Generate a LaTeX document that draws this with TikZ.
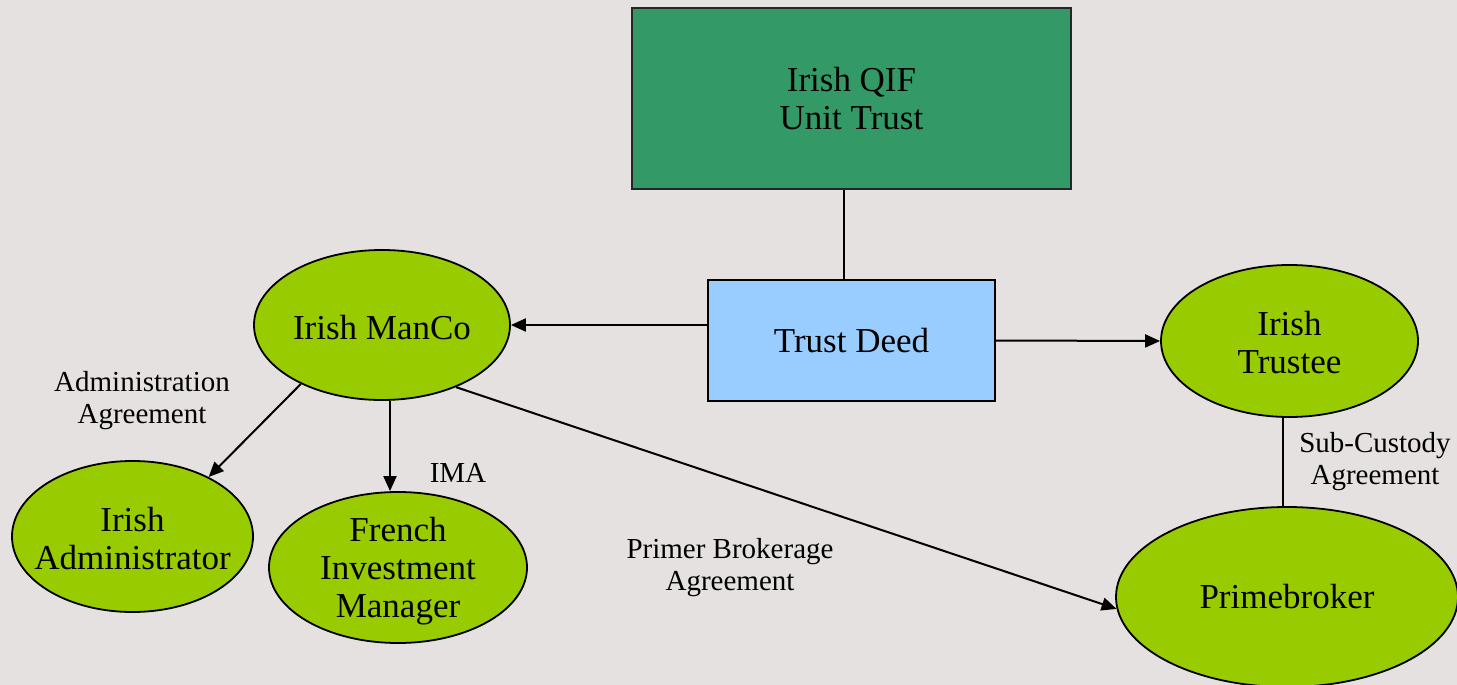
\documentclass[tikz,border=0pt]{standalone}
\usepackage{fontspec}
\setmainfont{Liberation Serif}
\usetikzlibrary{arrows.meta,shapes.geometric}
\definecolor{bg}{HTML}{E4E1E0}
\definecolor{leaf}{HTML}{99CC00}
\definecolor{qifgreen}{HTML}{339966}
\definecolor{deedblue}{HTML}{99CCFF}
\tikzset{
 big/.style={font=\fontsize{35}{38}\selectfont, align=center},
 small/.style={font=\fontsize{29}{32}\selectfont, align=center},
 party/.style={ellipse, draw=black, line width=1.8pt, fill=leaf, inner sep=0pt},
 flow/.style={line width=2pt, -{Triangle[length=15pt,width=13pt]}},
 plain/.style={line width=1.5pt},
}
\begin{document}
\begin{tikzpicture}[x=1pt,y=-1pt]
\useasboundingbox (0,0) rectangle (1457,685);
\fill[bg] (0,0) rectangle (1457,685);
\node[draw=black!85, line width=2pt, fill=qifgreen, minimum width=439pt, minimum height=181pt, inner sep=0pt, big] (qif) at (851.5,98.5) {Irish QIF\\Unit Trust};
\node[draw=black, line width=1.5pt, fill=deedblue, minimum width=287pt, minimum height=121pt, inner sep=0pt, big] (td) at (851.5,340.5) {Trust Deed};
\node[party, minimum width=256pt, minimum height=150pt, label={[big,yshift=-3pt]center:Irish ManCo}] (manco) at (382,325) {};
\node[party, minimum width=257pt, minimum height=152pt, label={[big,yshift=-2pt]center:Irish\\Trustee}] (trustee) at (1289.5,341) {};
\node[party, minimum width=342pt, minimum height=180pt, label={[big]center:Primebroker}] (pb) at (1287,597) {};
\node[party, minimum width=241pt, minimum height=151pt, label={[big,yshift=-2pt]center:Irish\\Administrator}] (admin) at (132.5,536.5) {};
\node[party, minimum width=258pt, minimum height=151pt, label={[big,yshift=-4pt]center:French\\Investment\\Manager}] (french) at (398,567.5) {};
\node[small] (ladmin) at (142,401) {Administration\\Agreement};
\node[small] (lima) at (458,473) {IMA};
\node[small] (lprime) at (730,568) {Primer Brokerage\\Agreement};
\node[small] (lsub) at (1375,462) {Sub-Custody\\Agreement};
\draw[plain] ([xshift=-7.5pt]qif.south) -- ([xshift=-7.5pt]td.north);
\draw[flow] (td.west |- manco.east) -- (manco.east);
\draw[flow] (td.east) -- (trustee.west);
\draw[plain] ([xshift=-6.5pt]trustee.south) -- ([xshift=-6.5pt]trustee.south |- pb.north);
\draw[flow] (manco.216.8) -- (admin.38.3);
\draw[flow] ([xshift=8pt]manco.south) -- ([xshift=-8pt]french.north);
\draw[flow] (manco.-40.6) -- (pb.184.6);
\end{tikzpicture}
\end{document}
